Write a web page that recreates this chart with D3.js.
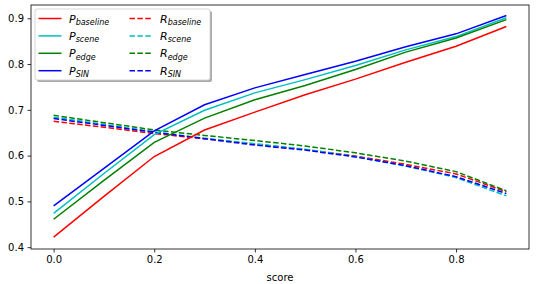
<!DOCTYPE html>
<html>
<head>
<meta charset="utf-8">
<script src="https://cdn.jsdelivr.net/npm/d3@7"></script>
<style>
  body { margin: 0; background: #fff; }
  svg text { font-family: "DejaVu Sans", sans-serif; }
</style>
</head>
<body>
<div id="chart"></div>
<script>
// data
let scores = [0, 0.1, 0.2, 0.3, 0.4, 0.5, 0.6, 0.7, 0.8, 0.9]
	pBaseline = [0.422, 0.511, 0.598, 0.656, 0.695, 0.733, 0.767, 0.804, 0.839, 0.882]
	pScene = [0.474, 0.561, 0.646, 0.699, 0.737, 0.766, 0.797, 0.831, 0.860, 0.901]
	pEdge = [0.461, 0.546, 0.629, 0.682, 0.722, 0.753, 0.788, 0.826, 0.857, 0.897]
	pSIN = [0.490, 0.572, 0.654, 0.711, 0.748, 0.777, 0.806, 0.838, 0.866, 0.906]
	rBaseline = [0.675, 0.662, 0.648, 0.637, 0.625, 0.613, 0.599, 0.581, 0.560, 0.521]
	rScene = [0.684, 0.668, 0.652, 0.638, 0.626, 0.614, 0.598, 0.577, 0.552, 0.512]
	rEdge = [0.688, 0.672, 0.656, 0.644, 0.633, 0.621, 0.606, 0.588, 0.565, 0.523]
	rSIN = [0.681, 0.666, 0.651, 0.637, 0.623, 0.612, 0.597, 0.578, 0.554, 0.517]
	xTicks = [0, 0.2, 0.4, 0.6, 0.8]
	yTicks = [0.4, 0.5, 0.6, 0.7, 0.8, 0.9]

// series table for the lines + legend
let series = [
	{base: 'P', sub: 'baseline', values: pBaseline, color: '#ff0000', dash: null},
	{base: 'P', sub: 'scene', values: pScene, color: '#00bfbf', dash: null},
	{base: 'P', sub: 'edge', values: pEdge, color: '#008000', dash: null},
	{base: 'P', sub: 'SIN', values: pSIN, color: '#0000ff', dash: null},
	{base: 'R', sub: 'baseline', values: rBaseline, color: '#ff0000', dash: '5.5,2.4'},
	{base: 'R', sub: 'scene', values: rScene, color: '#00bfbf', dash: '5.5,2.4'},
	{base: 'R', sub: 'edge', values: rEdge, color: '#008000', dash: '5.5,2.4'},
	{base: 'R', sub: 'SIN', values: rSIN, color: '#0000ff', dash: '5.5,2.4'}
]

let width = 538
	height = 284
	margin = {top: 5, right: 9, bottom: 35, left: 31}

let svg = d3.select('#chart')
	.append('svg')
	.attr('width', width)
	.attr('height', height)

let x = d3.scaleLinear()
	.domain([-0.045, 0.945])
	.range([margin.left, width - margin.right])

let y = d3.scaleLinear()
	.domain([0.396, 0.929])
	.range([height - margin.bottom, margin.top])

// lines (draw in order so later series sit on top)
let line = d3.line()
	.x(function(d, i){ return x(scores[i]) })
	.y(function(d){ return y(d) })

// dashed R lines first, solid P lines after, like the reference overlap
let order = [4, 5, 6, 7, 0, 1, 2, 3]
order.forEach(function(k){
	let s = series[k]
	svg.append('path')
		.datum(s.values)
		.attr('fill', 'none')
		.attr('stroke', s.color)
		.attr('stroke-width', 1.5)
		.attr('stroke-dasharray', s.dash)
		.attr('d', line)
})

// axes
let xAxis = svg.append('g')
	.attr('transform', 'translate(0,' + (height - margin.bottom) + ')')
	.call(d3.axisBottom(x).tickValues(xTicks).tickFormat(d3.format('.1f')).tickSizeOuter(0).tickSize(3.5).tickPadding(3.5))
let yAxis = svg.append('g')
	.attr('transform', 'translate(' + margin.left + ',0)')
	.call(d3.axisLeft(y).tickValues(yTicks).tickFormat(d3.format('.1f')).tickSizeOuter(0).tickSize(3.5).tickPadding(3.5))

svg.selectAll('.tick text').attr('font-size', 10).attr('fill', '#000').attr('font-family', 'DejaVu Sans')
svg.selectAll('.tick line').attr('stroke', '#000').attr('stroke-width', 0.8)
svg.selectAll('.domain').remove()

// frame
svg.append('rect')
	.attr('x', margin.left)
	.attr('y', margin.top)
	.attr('width', width - margin.left - margin.right)
	.attr('height', height - margin.top - margin.bottom)
	.attr('fill', 'none')
	.attr('stroke', '#000')
	.attr('stroke-width', 0.8)

svg.append('text')
	.attr('x', x(0.45))
	.attr('y', height - 3)
	.attr('text-anchor', 'middle')
	.attr('font-size', 10)
	.text('score')

// legend
let lg = svg.append('g').attr('transform', 'translate(35,9)')
lg.append('rect')
	.attr('x', 2).attr('y', 2)
	.attr('width', 175).attr('height', 71)
	.attr('rx', 2)
	.attr('fill', '#555').attr('opacity', 0.5)
lg.append('rect')
	.attr('width', 175).attr('height', 71)
	.attr('rx', 2)
	.attr('fill', '#fff')
	.attr('stroke', '#ccc')
	.attr('stroke-width', 0.8)

series.forEach(function(s, i){
	let col = Math.floor(i / 4)
		row = i % 4
		gx = col * 91
		gy = 9.5 + row * 17.4
	lg.append('line')
		.attr('x1', gx + 3.5).attr('x2', gx + 26.5)
		.attr('y1', gy).attr('y2', gy)
		.attr('stroke', s.color)
		.attr('stroke-width', 1.5)
		.attr('stroke-dasharray', s.dash)
	let t = lg.append('text')
		.attr('x', gx + 34)
		.attr('y', gy + 4)
		.attr('font-size', 11)
		.attr('font-style', 'italic')
	t.append('tspan').text(s.base)
	t.append('tspan')
		.attr('font-size', 8)
		.attr('dy', 2.5)
		.text(s.sub)
})
</script>
</body>
</html>
